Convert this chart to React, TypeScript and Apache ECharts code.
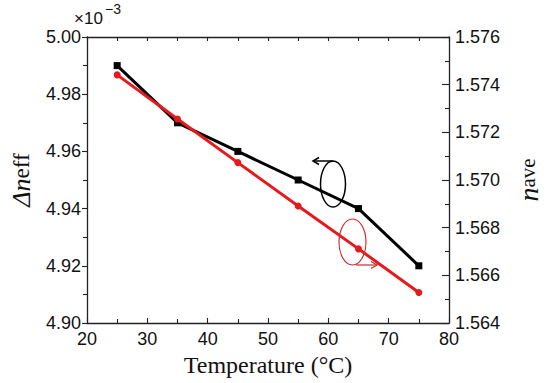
import React, { useEffect, useRef } from 'react';
import * as echarts from 'echarts';

const temperatures = [25, 35, 45, 55, 65, 75];
const deltaNeff = [4.99, 4.97, 4.96, 4.95, 4.94, 4.92];
const nAve = [1.57441, 1.57256, 1.57073, 1.56891, 1.56711, 1.56528];

const xRange = { min: 20, max: 80, interval: 10 };
const leftRange = { min: 4.9, max: 5.0, interval: 0.02 };
const rightRange = { min: 1.564, max: 1.576, interval: 0.002 };

const SANS = '"Liberation Sans", Arial, sans-serif';
const SERIF = '"Liberation Serif", "Times New Roman", serif';
const AXIS_COLOR = '#222';
const RED = '#e8191c';

export default function App() {
  const ref = useRef<HTMLDivElement>(null);
  useEffect(() => {
    if (!ref.current) return;
    const chart = echarts.init(ref.current, undefined, { renderer: 'svg' });
    const axisLine = { show: true, onZero: false, lineStyle: { color: AXIS_COLOR, width: 1.3 } };
    const tickStyle = { color: AXIS_COLOR, width: 1.1 };
    chart.setOption({
      animation: false,
      backgroundColor: '#fff',
      grid: { left: 76, right: 81, top: 37, bottom: 60, containLabel: false },
      xAxis: [
        {
          type: 'value', position: 'bottom', ...xRange,
          axisLine,
          axisTick: { show: true, inside: true, length: 5, lineStyle: tickStyle },
          minorTick: { show: true, splitNumber: 2, length: 4, lineStyle: tickStyle },
          splitLine: { show: false },
          axisLabel: { fontFamily: SANS, fontSize: 18, color: '#111', margin: 7 },
          name: 'Temperature (°C)', nameLocation: 'middle', nameGap: 28,
          nameTextStyle: { fontFamily: SERIF, fontSize: 24, color: '#111' },
        },
        {
          type: 'value', position: 'top', ...xRange,
          axisLine,
          axisTick: { show: true, inside: true, length: 4, lineStyle: tickStyle },
          minorTick: { show: true, splitNumber: 2, length: 4, lineStyle: tickStyle },
          splitLine: { show: false },
          axisLabel: { show: false },
        },
      ],
      yAxis: [
        {
          type: 'value', position: 'left', ...leftRange,
          axisLine,
          axisTick: { show: true, inside: false, length: 5, lineStyle: tickStyle },
          minorTick: { show: true, splitNumber: 2, length: 4, lineStyle: tickStyle },
          splitLine: { show: false },
          axisLabel: { fontFamily: SANS, fontSize: 18, color: '#111', margin: 6, formatter: (v: number) => v.toFixed(2) },
          name: '{d|Δn}{s|eff}', nameLocation: 'middle', nameRotate: 90, nameGap: 53,
          nameTextStyle: {
            rich: {
              d: { fontFamily: SERIF, fontStyle: 'italic', fontSize: 26, color: '#111' },
              s: { fontFamily: SERIF, fontSize: 23, color: '#111' },
            },
          },
        },
        {
          type: 'value', position: 'right', ...rightRange,
          axisLine,
          axisTick: { show: true, inside: true, length: 7, lineStyle: tickStyle },
          minorTick: { show: true, splitNumber: 2, length: 4, lineStyle: tickStyle },
          splitLine: { show: false },
          axisLabel: { fontFamily: SANS, fontSize: 18, color: '#111', margin: 6, formatter: (v: number) => v.toFixed(3) },
          name: '{n|n}{s|ave}', nameLocation: 'middle', nameRotate: 90, nameGap: 65,
          nameTextStyle: {
            rich: {
              n: { fontFamily: SERIF, fontStyle: 'italic', fontSize: 28, color: '#111' },
              s: { fontFamily: SERIF, fontSize: 21, color: '#111' },
            },
          },
        },
      ],
      series: [
        {
          type: 'line', xAxisIndex: 0, yAxisIndex: 0,
          data: temperatures.map((t, i) => [t, deltaNeff[i]]),
          symbol: 'rect', symbolSize: 7,
          lineStyle: { color: '#000', width: 3 },
          itemStyle: { color: '#000' },
          z: 3,
        },
        {
          type: 'line', xAxisIndex: 0, yAxisIndex: 1,
          data: temperatures.map((t, i) => [t, nAve[i]]),
          symbol: 'circle', symbolSize: 7,
          lineStyle: { color: RED, width: 3 },
          itemStyle: { color: RED },
          z: 4,
        },
      ],
      graphic: [
        { type: 'text', left: 74, top: 10, style: { text: '×10', font: `17px ${SANS}`, fill: '#111' } },
        { type: 'text', left: 105, top: 2, style: { text: '−3', font: `14px ${SANS}`, fill: '#111' } },
        { type: 'ellipse', shape: { cx: 333, cy: 184, rx: 12.5, ry: 23 }, style: { fill: 'none', stroke: '#000', lineWidth: 1.5 }, z: 10 },
        { type: 'polyline', shape: { points: [[333, 161], [313, 161]] }, style: { fill: 'none', stroke: '#000', lineWidth: 1.5 }, z: 10 },
        { type: 'polyline', shape: { points: [[319, 157.5], [313, 161], [319, 164.5]] }, style: { fill: 'none', stroke: '#000', lineWidth: 1.5 }, z: 10 },
        { type: 'ellipse', shape: { cx: 352.5, cy: 242, rx: 13.5, ry: 23 }, style: { fill: 'none', stroke: '#d42a2a', lineWidth: 1.2 }, z: 10 },
        { type: 'polyline', shape: { points: [[356, 265], [377, 265]] }, style: { fill: 'none', stroke: '#d42a2a', lineWidth: 1.2 }, z: 10 },
        { type: 'polyline', shape: { points: [[371, 261.5], [377, 265], [371, 268.5]] }, style: { fill: 'none', stroke: '#d42a2a', lineWidth: 1.2 }, z: 10 },
      ],
    });
    return () => chart.dispose();
  }, []);
  return <div ref={ref} style={{ position: 'fixed', left: 0, top: 0, width: 550, height: 383 }} />;
}
